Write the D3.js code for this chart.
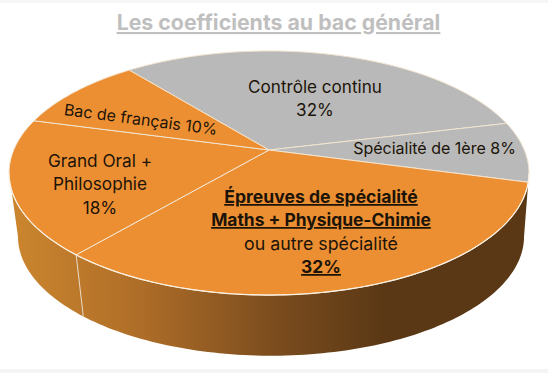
<!DOCTYPE html>
<html>
<head>
<meta charset="utf-8">
<script src="https://cdn.jsdelivr.net/npm/d3@7"></script>
<style>
html, body { margin: 0; padding: 0; background: #fff; }
svg { display: block; }
text { font-family: Inter, "Noto Sans", sans-serif; fill: #1c1408; }
</style>
</head>
<body>
<div id="chart"></div>
<script>
// slices, clockwise from the top left
var categories = ['Contrôle continu', 'Spécialité de 1ère', 'Épreuves de spécialité', 'Grand Oral + Philosophie', 'Bac de français'];
var values = [32, 8, 32, 18, 10];
var colors = ['#b9b9b9', '#b9b9b9', '#ec8f33', '#ec8f33', '#ec8f33'];
var titleText = 'Les coefficients au bac général';

var width = 548, height = 373;
var startAngle = -38.9 * Math.PI / 180;
var tilt = -0.1885; // perspective of the disc

var svg = d3.select('#chart').append('svg')
    .attr('width', width)
    .attr('height', height);

var defs = svg.append('defs');
var grad = defs.append('linearGradient')
    .attr('id', 'wall')
    .attr('gradientUnits', 'userSpaceOnUse')
    .attr('x1', 10).attr('x2', 385).attr('y1', 0).attr('y2', 0);
grad.append('stop').attr('offset', '0%').attr('stop-color', '#cc862e');
grad.append('stop').attr('offset', '35%').attr('stop-color', '#ae6d28');
grad.append('stop').attr('offset', '70%').attr('stop-color', '#7c4d1e');
grad.append('stop').attr('offset', '100%').attr('stop-color', '#5a3815');

// frame lines of the screenshot
svg.append('rect').attr('x', 0).attr('y', 0).attr('width', width).attr('height', 3).attr('fill', '#f6f6f6');
svg.append('rect').attr('x', 0).attr('y', 369).attr('width', width).attr('height', 4).attr('fill', '#f4f4f4');

// unit disc -> screen, top face and bottom edge of the cylinder
var xTop = d3.scaleLinear().domain([-1, 1]).range([269 - 255.3, 269 + 255.3]);
var yTop = d3.scaleLinear().domain([-1, 1]).range([150 - 117.7, 150 + 117.7]);
var xBottom = d3.scaleLinear().domain([-1, 1]).range([271 - 248.5, 271 + 248.5]);
var yBottom = d3.scaleLinear().domain([-1, 1]).range([214 - 115, 214 + 115]);

function project(a, xs, ys) {
    var X = Math.sin(a), Y = -Math.cos(a);
    var w = 1 + tilt * Y;
    return [xs(X / w), ys(Y / w)];
}
function topPt(a) { return project(a, xTop, yTop); }
function bottomPt(a) { return project(a, xBottom, yBottom); }

function sweep(a0, a1) {
    var n = Math.max(2, Math.ceil(Math.abs(a1 - a0) / 0.02));
    return d3.range(n + 1).map(function(i) { return a0 + (a1 - a0) * i / n; });
}

var pie = d3.pie().sort(null)
    .startAngle(startAngle)
    .endAngle(startAngle + 2 * Math.PI);
var arcs = pie(values);
var line = d3.line();

// side wall, between the two silhouette angles of the disc
var silL = Math.PI - Math.asin(Math.sqrt(1 - tilt * tilt));
var silR = Math.PI + Math.asin(Math.sqrt(1 - tilt * tilt));
var wallPts = sweep(silL, silR).map(topPt).concat(sweep(silR, silL).map(bottomPt));
svg.append('path')
    .attr('d', line(wallPts) + 'Z')
    .attr('fill', 'url(#wall)');

// top slices
svg.selectAll('.slice')
    .data(arcs)
    .enter()
    .append('path')
    .attr('class', 'slice')
    .attr('d', function(d) {
        var apex = [xTop(0), yTop(0)];
        return line([apex].concat(sweep(d.startAngle, d.endAngle).map(topPt))) + 'Z';
    })
    .attr('fill', function(d, i) { return colors[i]; })
    .attr('stroke', '#f3e4d0')
    .attr('stroke-width', 1)
    .attr('stroke-linejoin', 'round');

// only the front of the rim has a light edge
svg.append('path')
    .attr('d', line(sweep(silL, silR).map(topPt)))
    .attr('fill', 'none')
    .attr('stroke', '#fbf1e2')
    .attr('stroke-width', 1.2);

// separator on the wall, where Épreuves meets Grand Oral
var sepAngle = arcs[2].endAngle;
svg.append('path')
    .attr('d', line([topPt(sepAngle), bottomPt(sepAngle)]))
    .attr('stroke', '#eadcc8')
    .attr('stroke-width', 1);

// title
svg.append('text')
    .attr('x', 278.5)
    .attr('y', 30)
    .attr('text-anchor', 'middle')
    .style('font-size', '21.3px')
    .style('font-weight', 700)
    .style('fill', '#bfbfbf')
    .style('text-decoration', 'underline')
    .text(titleText);

function label(x, y, str, size, opts) {
    opts = opts || {};
    var t = svg.append('text')
        .attr('x', x)
        .attr('y', y)
        .attr('text-anchor', 'middle')
        .style('font-size', size + 'px')
        .text(str);
    if (opts.bold) t.style('font-weight', 700);
    if (opts.underline) t.style('text-decoration', 'underline');
    if (opts.rotate) t.attr('transform', 'rotate(' + opts.rotate + ' ' + x + ' ' + y + ')');
    return t;
}

label(315, 93, categories[0], 17.1);
label(315, 116, values[0] + '%', 17.1);
label(434.5, 154, categories[1] + ' ' + values[1] + '%', 16);
label(321, 203, categories[2], 17.6, { bold: true, underline: true });
label(321, 226, 'Maths + Physique-Chimie', 17.4, { bold: true, underline: true });
label(321, 250, 'ou autre spécialité', 17.8);
label(321, 273, values[2] + '%', 17.4, { bold: true, underline: true });
label(100, 167, 'Grand Oral +', 17.2);
label(100, 190, 'Philosophie', 17.2);
label(100, 214, values[3] + '%', 17.2);
label(140, 125, categories[4] + ' ' + values[4] + '%', 16, { rotate: 7.5 });
</script>
</body>
</html>
